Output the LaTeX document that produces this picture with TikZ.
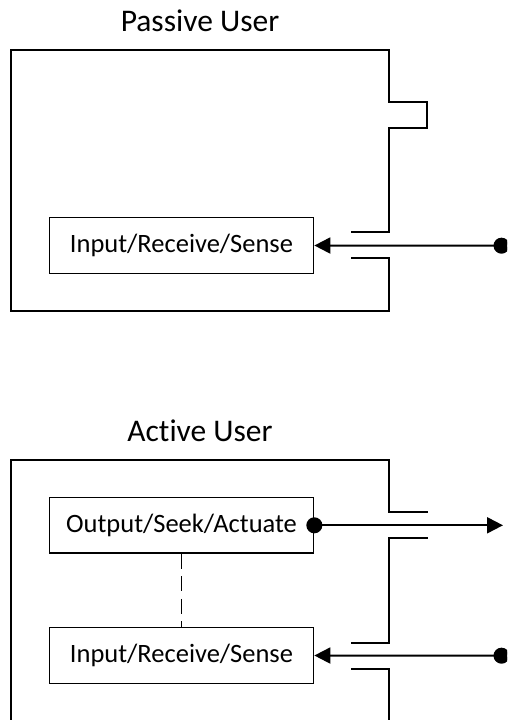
\documentclass[tikz,border=0pt]{standalone}
\usepackage{fontspec}
\setmainfont{Carlito}[Ligatures=NoCommon]
\usetikzlibrary{arrows.meta}
\begin{document}
\begin{tikzpicture}[x=1pt,y=-1pt,
  frame/.style={line width=2pt, line join=miter},
  unit/.style={draw, line width=1.3pt, minimum width=264.4pt, minimum height=55.6pt,
    inner sep=0pt, font=\fontsize{26.5}{31}\selectfont},
  heading/.style={anchor=base, font=\fontsize{31.5}{36}\selectfont},
  signal/.style={line width=2pt},
  inarrow/.style={signal, {Triangle[length=16pt,width=16pt]}-{Circle[length=16pt]}},
  outarrow/.style={signal, {Circle[length=16pt]}-{Triangle[length=16pt,width=16pt]}, shorten <=-8pt},
  link/.style={line width=1.3pt, dash pattern=on 15pt off 7.5pt}]
\clip (0,0) rectangle (507,720);

% ---- passive user ----
\node[heading] (ptitle) at (200,31.7) {Passive User};
\draw[frame] (351,232) -- (389,232) -- (389,127.7) -- (427,127.7) -- (427,101.7)
  -- (389,101.7) -- (389,50) -- (11.3,50) -- (11.3,311) -- (389,311) -- (389,258) -- (351,258);
\node[unit] (pin) at (181.5,245.5) {Input/Receive/Sense};
\coordinate (psrc) at (509.5,245.7);
\draw[inarrow] (pin.east) -- (psrc);

% ---- active user ----
\node[heading] (atitle) at (200,441.7) {Active User};
\draw[frame] (351,642.7) -- (389,642.7) -- (389,538.3) -- (427.7,538.3);
\draw[frame] (427.7,512.3) -- (389,512.3) -- (389,460) -- (11.3,460) -- (11.3,725);
\draw[frame] (389,725) -- (389,669) -- (351,669);
\node[unit] (aout) at (181.5,525.3) {Output/Seek/Actuate};
\node[unit] (ain) at (181.5,655.5) {Input/Receive/Sense};
\coordinate (adst) at (503,525.3);
\coordinate (asrc) at (509.5,655.7);
\draw[outarrow] (aout.east) -- (adst);
\draw[inarrow] (ain.east) -- (asrc);
\draw[link] (aout.south) -- (ain.north);
\end{tikzpicture}
\end{document}
